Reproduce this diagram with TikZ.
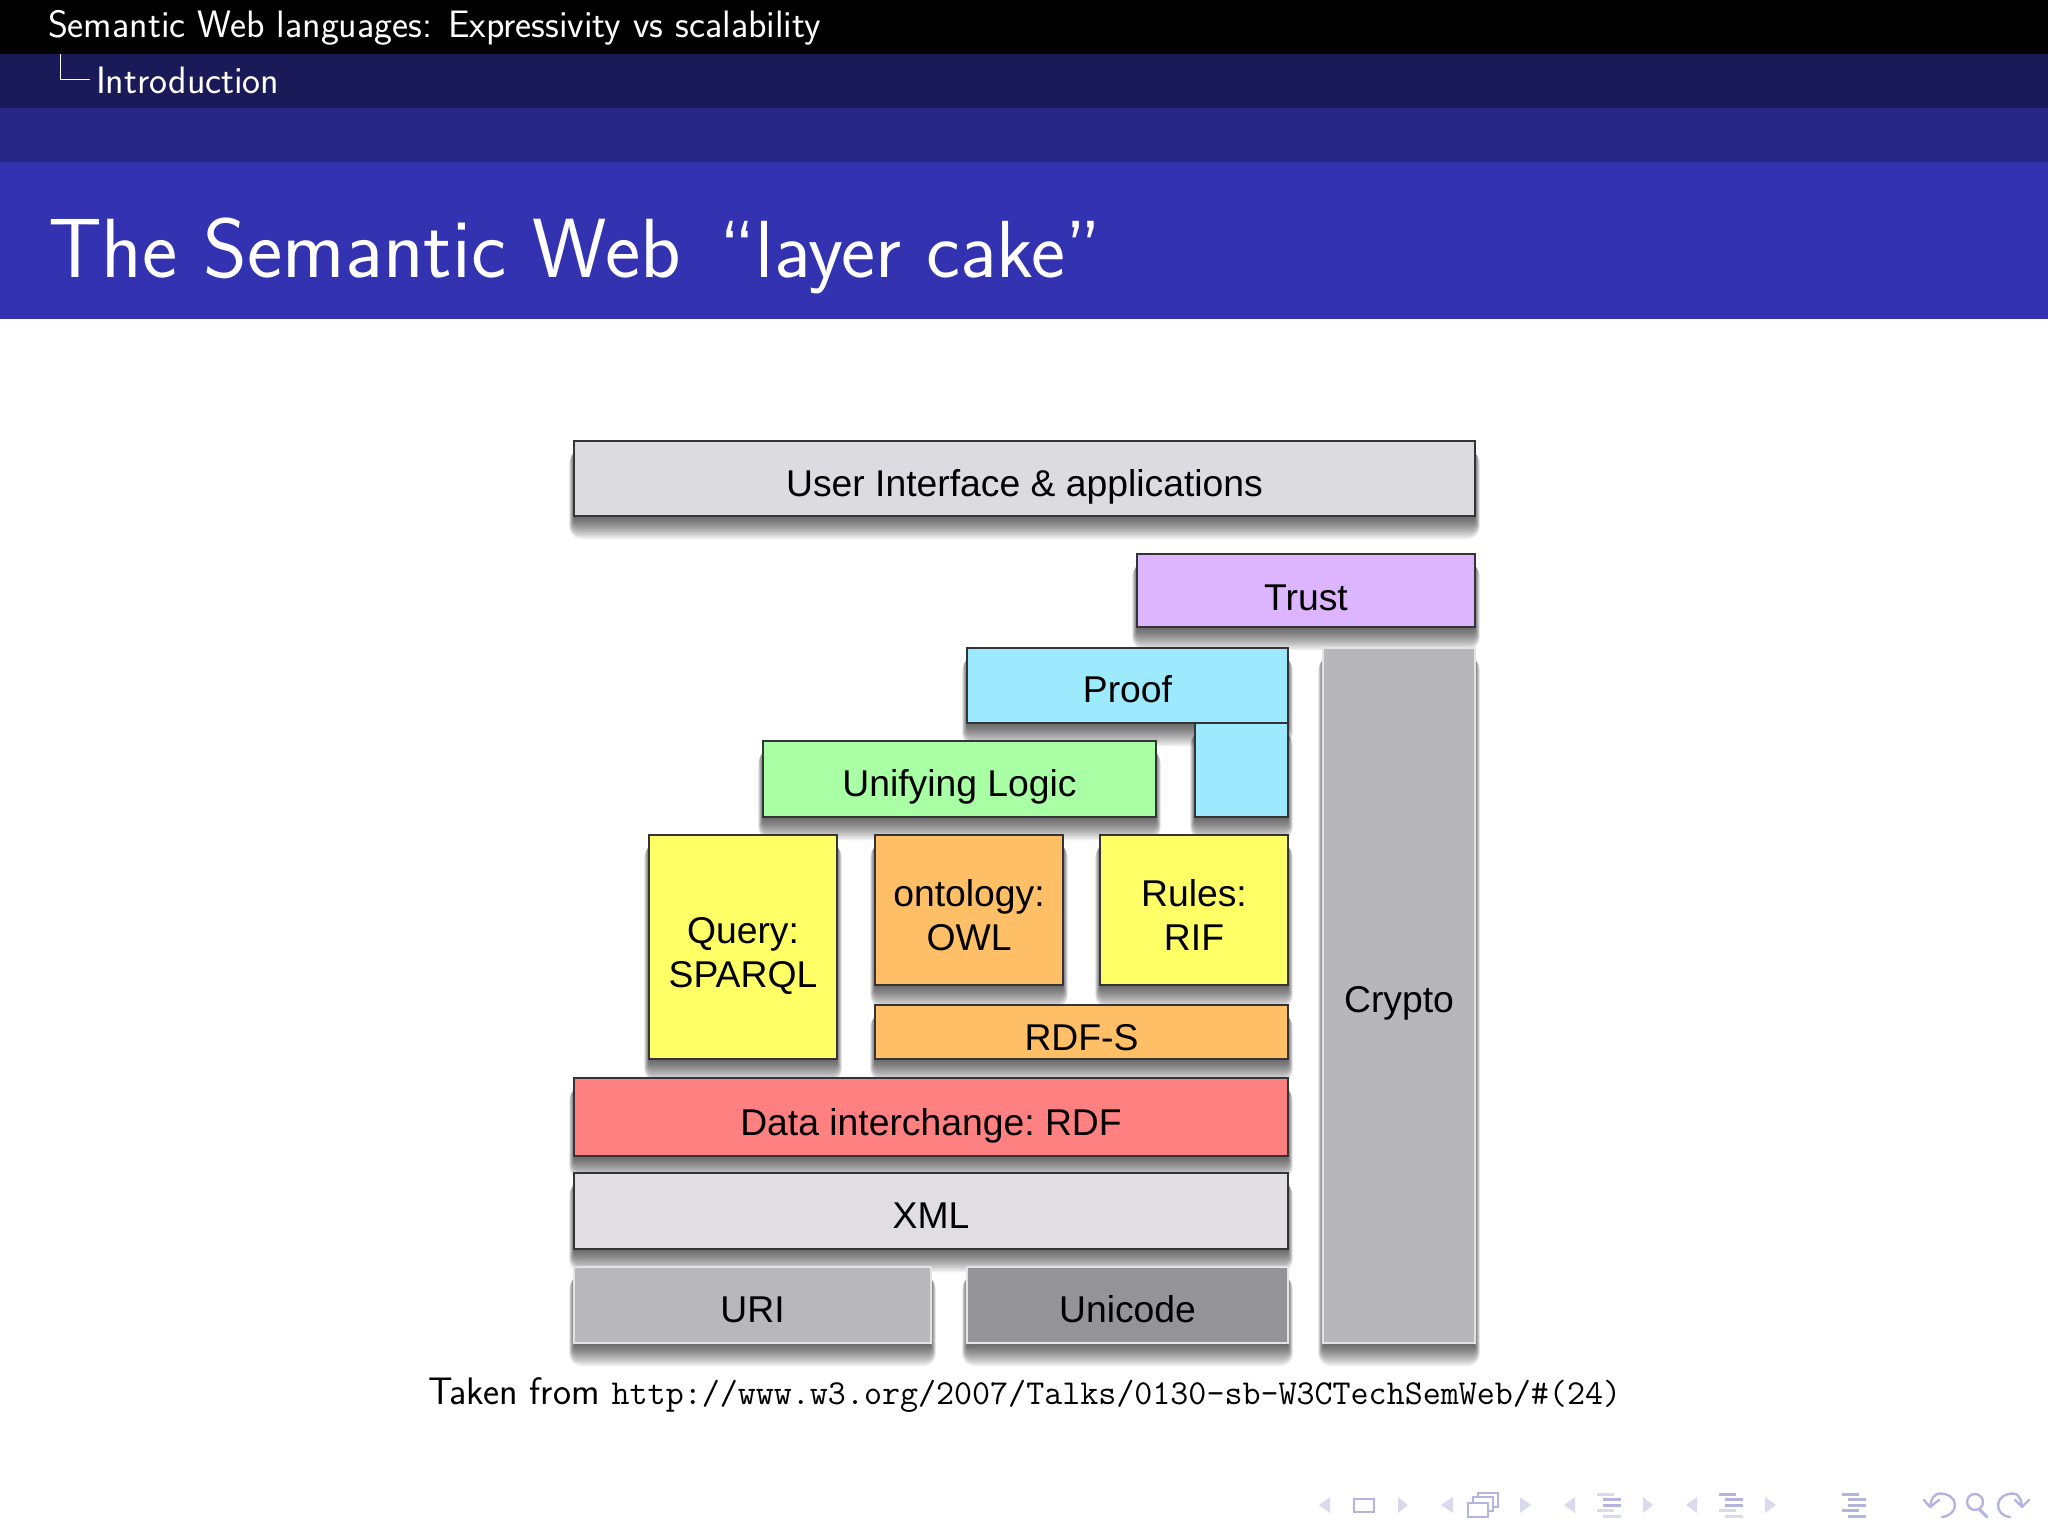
\documentclass[tikz,border=0pt]{standalone}
\usepackage{fontspec}
\usetikzlibrary{calc}
\newfontfamily\cakefont{Liberation Sans}
\definecolor{hdA}{HTML}{000000}
\definecolor{hdB}{HTML}{1A1A59}
\definecolor{hdC}{HTML}{262685}
\definecolor{hdD}{HTML}{3333B2}
\definecolor{cUI}{HTML}{DCDBE0}
\definecolor{cTrust}{HTML}{DDB5FE}
\definecolor{cProof}{HTML}{9DEAFF}
\definecolor{cLogic}{HTML}{A8FFA4}
\definecolor{cYellow}{HTML}{FFFF66}
\definecolor{cOrange}{HTML}{FFBF66}
\definecolor{cRed}{HTML}{FF8080}
\definecolor{cXML}{HTML}{E0DEE0}
\definecolor{cURI}{HTML}{B8B7BA}
\definecolor{cUni}{HTML}{949396}
\definecolor{cCrypto}{HTML}{B7B6B9}
\definecolor{edgeDark}{HTML}{333338}
\definecolor{edgeLight}{HTML}{E4E4E6}
\definecolor{navDark}{HTML}{B4B4DE}
\definecolor{navLight}{HTML}{DADAEF}
\pgfdeclarelayer{paper}
\pgfdeclarelayer{shadowlayer}
\pgfsetlayers{paper,shadowlayer,main}
\tikzset{
  cakebox/.style={rectangle,inner sep=0pt,outer sep=0pt,line width=2.6pt,draw=edgeDark,font=\cakefont\frenchspacing\fontsize{37.3}{44.4}\selectfont,text=black,align=center},
  softbox/.style={cakebox,draw=edgeLight,line width=2.4pt},
  slidetext/.style={inner sep=0pt,outer sep=0pt,anchor=base west,text=white,font=\sffamily},
  headtext/.style={slidetext,font=\sffamily\fontsize{38.2}{44}\selectfont},
  navbar/.style={line width=3pt},
  navarrow/.style={line width=2.4pt,draw=navDark,line cap=round,line join=round}
}
% \cakebox{style}{name}{x0}{y0}{x1}{y1}{drop}{fill}{text}
\newcommand{\cakebox}[9]{%
  \pgfmathsetmacro{\cx}{(#3+#5)/2}\pgfmathsetmacro{\cy}{(#4+#6)/2}%
  \pgfmathsetmacro{\cw}{#5-#3}\pgfmathsetmacro{\ch}{#6-#4}%
  \node[#1,fill=#8,minimum width=\cw pt,minimum height=\ch pt] (#2) at (\cx,\cy) {\raisebox{-#7pt}[0pt][0pt]{\begin{tabular}{@{}c@{}}#9\end{tabular}}};%
  \begin{pgfonlayer}{shadowlayer}
    \foreach \s in {0,...,14}{
      \pgfmathsetmacro{\rr}{0.9*\s}
      \fill[black,opacity=0.052,rounded corners=\rr pt] ($(#2.north west)+({-0.35*\s},10)$) rectangle ($(#2.south east)+({0.35*\s},{3+1.45*\s})$);
    }
  \end{pgfonlayer}%
}
\newcommand{\navleft}[2]{\fill[navLight] (#1,1505) -- (#2,1497) -- (#2,1513) -- cycle;}
\newcommand{\navright}[2]{\fill[navLight] (#2,1505) -- (#1,1497) -- (#1,1513) -- cycle;}
% \navlines{x}{c1}{c2}{c3}{c4}{c5}
\newcommand{\navlines}[6]{%
  \draw[navbar,draw=#2] (#1,1494) -- ++(17,0);
  \draw[navbar,draw=#3] (#1+6,1499.5) -- ++(18,0);
  \draw[navbar,draw=#4] (#1+6,1505) -- ++(18,0);
  \draw[navbar,draw=#5] (#1,1510.5) -- ++(17,0);
  \draw[navbar,draw=#6] (#1+6,1516) -- ++(18,0);
}
\begin{document}
\begin{tikzpicture}[x=1pt,y=-1pt]
\useasboundingbox (0,0) rectangle (2048,1536);
\begin{pgfonlayer}{paper}
\fill[white] (0,0) rectangle (2048,1536);
\end{pgfonlayer}
\fill[hdA] (0,0) rectangle (2048,54);
\fill[hdB] (0,54) rectangle (2048,108);
\fill[hdC] (0,108) rectangle (2048,162);
\fill[hdD] (0,162) rectangle (2048,319);
\node[headtext] (headA) at (48,38) {Semantic Web languages: Expressivity vs scalability};
\node[headtext] (headB) at (96,94) {Introduction};
\coordinate (treeTop) at (60.5,54);
\coordinate (treeEnd) at (90,79.5);
\draw[white,line width=1.6pt] (treeTop) |- (treeEnd);
\node[slidetext,font=\sffamily\fontsize{84}{90}\selectfont] (title) at (48,277) {The Semantic Web\hspace{13pt} {\fontsize{81}{90}\selectfont``layer cake''}};

\cakebox{cakebox}{ui}{574}{441}{1475}{516}{15.5}{cUI}{User Interface \& applications}
\cakebox{cakebox}{trust}{1137}{554}{1475}{627}{17}{cTrust}{Trust}
\cakebox{softbox}{crypto}{1323}{648}{1475}{1343}{14.5}{cCrypto}{Crypto}
\cakebox{cakebox}{proof}{967}{648}{1288}{723}{14.5}{cProof}{Proof}
\cakebox{cakebox}{proofleg}{1195}{723}{1288}{817}{0}{cProof}{}
\cakebox{cakebox}{logic}{763}{741}{1156}{817}{14.8}{cLogic}{Unifying Logic}
\cakebox{cakebox}{query}{649}{835}{837}{1059}{15.8}{cYellow}{Query:\\SPARQL}
\cakebox{cakebox}{owl}{875}{835}{1063}{985}{15.8}{cOrange}{ontology:\\OWL}
\cakebox{cakebox}{rif}{1100}{835}{1288}{985}{15.8}{cYellow}{Rules:\\RIF}
\cakebox{cakebox}{rdfs}{875}{1005}{1288}{1059}{15.8}{cOrange}{RDF-S}
\cakebox{cakebox}{rdf}{574}{1078}{1288}{1156}{15.8}{cRed}{Data interchange: RDF}
\cakebox{cakebox}{xml}{574}{1173}{1288}{1249}{14.5}{cXML}{XML}
\cakebox{softbox}{uri}{574}{1267}{931}{1343}{14.5}{cURI}{URI}
\cakebox{softbox}{unicode}{967}{1267}{1288}{1343}{14.5}{cUni}{Unicode}

\node[slidetext,text=black,font=\sffamily\fontsize{38.3}{44}\selectfont] (caption) at (428,1404) {Taken from {\fontsize{35}{44}\selectfont\texttt{http://www.w3.org/2007/Talks/0130-sb-W3CTechSemWeb/\#(24)}}};

% navigation symbols
\navleft{1319}{1330}
\draw[navDark,line width=2.4pt] (1354,1499) rectangle (1374,1512);
\navright{1398}{1408}
\navleft{1441}{1453}
\draw[navDark,line width=1.6pt,fill=white] (1478,1493) rectangle (1498,1507);
\draw[navDark,line width=1.6pt,fill=white] (1473,1497) rectangle (1493,1511);
\draw[navDark,line width=2.2pt,fill=white] (1468,1503) rectangle (1488,1517);
\navright{1520}{1531}
\navleft{1564}{1575}
\navlines{1597}{navLight}{navDark}{navDark}{navLight}{navLight}
\navright{1643}{1653}
\navleft{1686}{1697}
\navlines{1719}{navDark}{navDark}{navDark}{navLight}{navLight}
\navright{1765}{1776}
\navlines{1842}{navDark}{navDark}{navDark}{navDark}{navDark}
\draw[navarrow] (1942,1517) .. controls (1950,1516) and (1955,1511) .. (1955,1505) .. controls (1955,1498) and (1948,1493.5) .. (1940,1493.5) .. controls (1935,1493.5) and (1931,1498) .. (1930,1507);
\draw[navarrow] (1924,1500) -- (1930,1507) -- (1939,1500);
\draw[navarrow] (1975,1502) circle[radius=8];
\draw[navarrow,line width=3pt] (1980,1510) -- (1987,1517);
\draw[navarrow] (2010,1517) .. controls (2002,1516) and (1998,1511) .. (1998,1505) .. controls (1998,1498) and (2005,1493.5) .. (2013,1493.5) .. controls (2018,1493.5) and (2021,1498) .. (2022,1507);
\draw[navarrow] (2015,1500) -- (2022,1507) -- (2029,1500);
\end{tikzpicture}
\end{document}
